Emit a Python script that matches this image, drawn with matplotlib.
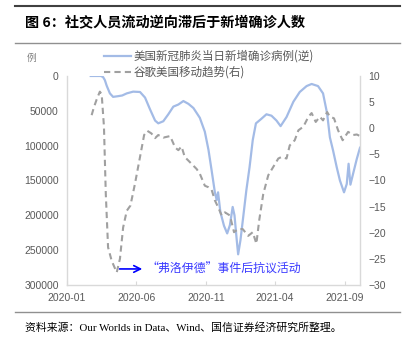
import pandas as pd
import matplotlib
matplotlib.use("Agg")
import matplotlib.pyplot as plt
import matplotlib.dates as mdates
from matplotlib.lines import Line2D

CJK = ["Noto Sans CJK SC", "DejaVu Sans"]

# US daily new cases (7-day avg), plotted on an inverted left axis
case_dates = ["2020-02-22", "2020-03-15", "2020-03-20", "2020-03-24", "2020-03-28",
              "2020-04-04", "2020-04-11", "2020-04-22", "2020-05-01", "2020-05-11",
              "2020-05-25", "2020-06-09", "2020-06-20", "2020-07-01", "2020-07-12",
              "2020-07-19", "2020-07-30", "2020-08-10", "2020-08-21", "2020-09-01",
              "2020-09-12", "2020-09-23", "2020-10-04", "2020-10-18", "2020-10-29",
              "2020-11-06", "2020-11-13", "2020-11-20", "2020-11-24", "2020-11-27",
              "2020-12-02", "2020-12-10", "2020-12-17", "2020-12-23", "2020-12-29",
              "2021-01-02", "2021-01-07", "2021-01-10", "2021-01-15", "2021-01-21",
              "2021-01-28", "2021-02-04", "2021-02-11", "2021-02-18", "2021-03-01",
              "2021-03-13", "2021-03-24", "2021-04-04", "2021-04-13", "2021-04-26",
              "2021-05-11", "2021-05-25", "2021-06-09", "2021-06-20", "2021-07-04",
              "2021-07-15", "2021-07-24", "2021-07-30", "2021-08-06", "2021-08-14",
              "2021-08-21", "2021-08-30", "2021-09-05", "2021-09-09", "2021-09-13",
              "2021-09-19", "2021-09-27", "2021-10-04"]
case_values = [0, 0, 1500, 6000, 14000,
               25000, 30000, 29000, 28000, 25000,
               22500, 23000, 31000, 48000, 64000,
               68000, 65000, 55000, 44000, 41000,
               36000, 40000, 46000, 60000, 80000,
               106000, 136000, 167000, 178000, 167000,
               195000, 215000, 226000, 214000, 188000,
               200000, 236000, 256000, 236000, 203000,
               164000, 131000, 92000, 68000, 62000,
               55000, 57000, 64000, 72000, 59000,
               37000, 23000, 14500, 11500, 14500,
               25000, 54000, 88000, 107000, 131000,
               150000, 167000, 155000, 126000, 156000,
               140000, 119000, 103000]

# Google mobility trend for the US (right axis)
mob_dates = ["2020-02-24", "2020-02-29", "2020-03-06", "2020-03-13", "2020-03-17",
             "2020-03-22", "2020-03-26", "2020-03-31", "2020-04-08", "2020-04-19",
             "2020-04-26", "2020-05-03", "2020-05-11", "2020-05-19", "2020-05-29",
             "2020-06-09", "2020-06-18", "2020-06-25", "2020-07-04", "2020-07-12",
             "2020-07-19", "2020-07-30", "2020-08-14", "2020-08-25", "2020-09-01",
             "2020-09-08", "2020-09-15", "2020-09-23", "2020-10-02", "2020-10-11",
             "2020-10-18", "2020-10-29", "2020-11-06", "2020-11-13", "2020-11-20",
             "2020-11-27", "2020-12-05", "2020-12-12", "2020-12-23", "2021-01-01",
             "2021-01-10", "2021-01-20", "2021-02-01", "2021-02-11", "2021-02-19",
             "2021-02-25", "2021-03-06", "2021-03-17", "2021-03-28", "2021-04-08",
             "2021-04-15", "2021-04-26", "2021-05-03", "2021-05-14", "2021-05-22",
             "2021-06-02", "2021-06-13", "2021-06-20", "2021-06-29", "2021-07-08",
             "2021-07-15", "2021-07-24", "2021-07-30", "2021-08-08", "2021-08-17",
             "2021-08-27", "2021-09-08", "2021-09-19", "2021-09-27", "2021-10-04"]
mob_values = [2.5, 4.0, 5.5, 7.0, 6.5,
              0.3, -12.5, -22.8, -25.4, -27.6,
              -25.0, -19.0, -15.8, -14.8, -10.6,
              -5.5, -1.3, -0.5, -1.0, -1.9,
              -1.3, -1.8, -1.5, -3.7, -4.2,
              -3.5, -5.5, -6.2, -7.0, -7.8,
              -8.7, -11.0, -11.3, -11.8, -13.8,
              -15.1, -16.7, -16.1, -16.7, -19.9,
              -19.3, -19.3, -20.6, -19.9, -22.1,
              -17.7, -12.6, -9.0, -7.4, -5.8,
              -5.5, -5.8, -3.3, -2.3, -0.4,
              0.3, 2.2, 2.9, 1.2, 2.2,
              1.5, 3.1, 2.2, 1.9, -0.4,
              -2.3, -0.7, -1.3, -1.2, -1.5]

x_ticks = ["2020-01", "2020-06", "2020-11", "2021-04", "2021-09"]
left_ticks = [0, 50000, 100000, 150000, 200000, 250000, 300000]
right_ticks = [10, 5, 0, -5, -10, -15, -20, -25, -30]

case_x = pd.to_datetime(case_dates)
mob_x = pd.to_datetime(mob_dates)

BLUE = "#a3bbe6"
GRAY = "#a0a0a0"
TXT = "#595959"
SPINE = "#d9d9d9"

fig = plt.figure(figsize=(4.06, 3.45), dpi=100)
ax = fig.add_axes([0.165, 0.174, 0.7217, 0.6058])
ax2 = ax.twinx()

l1, = ax.plot(case_x, case_values, color=BLUE, lw=1.6)
l2, = ax2.plot(mob_x, mob_values, color=GRAY, lw=1.5, dashes=(3, 2))

ax.set_ylim(300000, 0)
ax.set_yticks(left_ticks)
ax.set_yticklabels([str(v) for v in left_ticks])
ax2.set_ylim(-30, 10)
ax2.set_yticks(right_ticks)

ax.set_xlim(pd.Timestamp("2020-01-01"), pd.Timestamp("2021-10-04"))
ax.set_xticks(pd.to_datetime(x_ticks))
ax.xaxis.set_major_formatter(mdates.DateFormatter("%Y-%m"))

for a in (ax, ax2):
    for side in ("top", "right", "left", "bottom"):
        a.spines[side].set_visible(False)
ax.spines["left"].set_visible(True)
ax.spines["bottom"].set_visible(True)
ax2.spines["right"].set_visible(True)
for sp in (ax.spines["left"], ax.spines["bottom"], ax2.spines["right"]):
    sp.set_color(SPINE)
    sp.set_linewidth(1)

tick_font = dict(family="Liberation Sans", size=7.5)
ax.tick_params(axis="y", length=0, pad=6, colors=TXT)
ax2.tick_params(axis="y", length=0, pad=6, colors=TXT)
ax.tick_params(axis="x", direction="in", length=3, pad=6, colors=TXT)
ax.tick_params(axis="x", color=SPINE)
for lab in ax.get_xticklabels() + ax.get_yticklabels() + ax2.get_yticklabels():
    lab.set_fontfamily(tick_font["family"])
    lab.set_fontsize(tick_font["size"])

# protest annotation
ax.annotate("", xy=(pd.Timestamp("2020-06-20"), 277000), xytext=(pd.Timestamp("2020-04-19"), 277000),
            arrowprops=dict(arrowstyle="->", color="#0000ff", lw=1.2, mutation_scale=12))
ax.text(pd.Timestamp("2020-06-24"), 277000, "“弗洛伊德”事件后抗议活动", color="#3a3aff",
        fontsize=8.6, family=CJK, va="center", ha="left")

fig.legend([l1, l2], ["美国新冠肺炎当日新增确诊病例(逆)", "谷歌美国移动趋势(右)"],
           loc="upper left", bbox_to_anchor=(0.255, 0.855), frameon=False,
           prop=dict(family=CJK, size=8.3), labelcolor=TXT, handlelength=2.4,
           handletextpad=0.2, labelspacing=0.25, borderpad=0, borderaxespad=0)

fig.text(0.066, 0.832, "例", family=CJK, fontsize=7, color="#808080", va="center")

# header / footer rules and text
fig.add_artist(Line2D([0.037, 0.985], [0.983, 0.983], color="#404040", lw=1.5))
fig.add_artist(Line2D([0.037, 0.985], [0.875, 0.875], color="#909090", lw=1))
fig.add_artist(Line2D([0.037, 0.985], [0.096, 0.096], color="#909090", lw=1))
fig.text(0.0616, 0.933, "图 6：社交人员流动逆向滞后于新增确诊人数", family=CJK, fontsize=10.2,
         fontweight="bold", color="#000000", va="center")
fig.text(0.0616, 0.052, "资料来源：Our Worlds in Data、Wind、国信证券经济研究所整理。",
         family=["Liberation Serif", "Noto Sans CJK SC"], fontsize=7.8, color="#000000", va="center")

fig.savefig("out.png", dpi=100)
